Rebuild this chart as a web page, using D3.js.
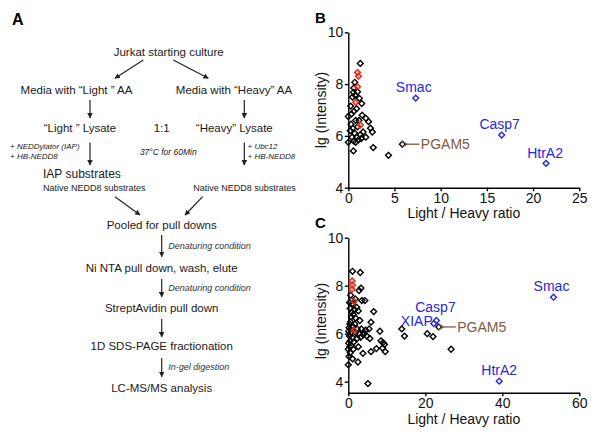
<!DOCTYPE html>
<html><head><meta charset="utf-8">
<script src="https://cdn.jsdelivr.net/npm/d3@7"></script>
<style>html,body{margin:0;padding:0;background:#fff}svg{display:block;font-family:"Liberation Sans",Arial,sans-serif}</style>
</head><body><svg id="c" width="600" height="436"></svg>
<script>
// ---------- DATA ----------
const flowSteps = ["Jurkat starting culture","Pooled for pull downs","Ni NTA pull down, wash, elute","StreptAvidin pull down","1D SDS-PAGE fractionation","LC-MS/MS analysis"];
const flowConditions = ["Denaturing condition","Denaturing condition","","In-gel digestion"];
const mediaLabels = ["Media with \u201cLight \u201d AA","Media with \u201cHeavy\u201d AA"];
const lysateLabels = ["\u201cLight \u201d Lysate","1:1","\u201cHeavy\u201d Lysate"];
const leftAdds = ["+ NEDDylator (IAP)","+ HB-NEDD8"];
const rightAdds = ["+ Ubc12","+ HB-NEDD8"];
const incubation = "37\u00b0C for 60Min";
const iapLabel = "IAP substrates";
const nativeLabel = "Native NEDD8 substrates";

const yTicks = [4,6,8,10];
const xTicksB = [0,5,10,15,20,25];
const xTicksC = [0,20,40,60];

// Panel B: [Light/Heavy ratio, lg intensity]
const bBlack = [[1.3,8.8],[0.7,8.07],[0.6,7.85],[0.55,7.68],[0.75,7.57],[0.45,7.5],[1.0,7.7],[1.45,7.25],[0.9,7.05],[0.6,6.95],[0.35,6.85],[0,6.75],[1.5,6.8],[0.8,6.6],[2.2,6.55],[1.9,6.68],[0.3,6.45],[2.4,6.3],[2.6,6.15],[0.5,6.3],[1.0,6.35],[0.2,6.2],[0.7,6.1],[1.3,6.05],[1.6,6.15],[0.9,5.95],[1.9,5.95],[0.4,5.95],[1.1,5.85],[0.6,5.8],[0,5.75],[1.4,5.9],[0.8,5.75],[0.55,5.42],[2.7,5.55],[4.35,5.25],[1.15,6.6],[0.25,7.15],[1.2,7.45]];
const bRed = [[1.0,8.45],[1.1,8.3],[1.0,7.9],[0.8,7.3],[1.3,6.42]];
const bPgam5 = [5.85,5.68];
const bBlueNames = ["Smac","Casp7","HtrA2"];
const bBlue = [[7.3,7.46],[16.6,6.03],[21.4,4.94]];

// Panel C
const cBlack = [[1.1,8.6],[3.1,8.55],[3.3,7.9],[2.8,7.8],[0.6,7.6],[1.8,7.45],[3.5,7.38],[4.3,7.38],[1.1,7.25],[2.2,7.1],[0.5,7.05],[2.6,6.95],[6.6,6.92],[1.3,6.8],[0.8,6.7],[1.9,6.65],[3.0,6.55],[5.9,6.48],[0.4,6.4],[1.2,6.3],[0.2,6.25],[2.3,6.2],[3.4,6.2],[4.5,6.15],[5.4,6.2],[8.2,6.1],[0.7,6.05],[1.9,6.05],[2.8,6.0],[3.9,5.95],[4.8,5.9],[3.2,5.85],[0.3,5.9],[1.0,5.85],[2.3,5.8],[5.6,5.8],[0.5,5.7],[1.4,5.65],[8.5,5.7],[9.0,5.62],[9.4,5.55],[0.1,5.6],[0.8,5.5],[2.6,5.45],[0,5.35],[1.3,5.35],[7.3,5.38],[8.9,5.4],[9.6,5.25],[5.9,5.25],[3.8,5.18],[0.5,5.2],[0.2,5.05],[1.1,4.95],[2.5,4.82],[0,4.7],[5.1,3.92],[13.9,6.2],[14.6,5.9],[20.5,6.0],[22.0,5.88],[26.7,5.35],[0.9,6.9],[1.6,7.0],[0.3,7.3],[0.1,6.1],[0.6,6.5],[1.7,6.4],[4.0,6.05],[0.4,5.45]];
const cRed = [[1.0,8.2],[1.1,8.02],[1.0,7.85],[1.5,7.35],[1.5,6.14]];
const cPgam5 = [23.5,6.28];
const cBlueNames = ["Smac","Casp7","XIAP","HtrA2"];
const cBlue = [[53.3,7.52],[22.9,6.55],[22.2,6.42],[39.2,4.02]];

// ---------- DRAW ----------
const svg = d3.select("#c");
const blue = "#2626e0", brown = "#7d5b3d", red = "#e0301e";

const defs = svg.append("defs");
defs.append("marker").attr("id","ah").attr("viewBox","0 0 10 10").attr("refX",9).attr("refY",5)
  .attr("markerWidth",5.5).attr("markerHeight",5.5).attr("markerUnits","userSpaceOnUse").attr("orient","auto")
  .append("path").attr("d","M0,0L10,5L0,10Z").attr("fill","#222");
defs.append("marker").attr("id","ahb").attr("viewBox","0 0 10 10").attr("refX",1).attr("refY",5)
  .attr("markerWidth",8).attr("markerHeight",7).attr("markerUnits","userSpaceOnUse").attr("orient","auto")
  .append("path").attr("d","M10,0L1,5L10,10").attr("fill","none").attr("stroke",brown).attr("stroke-width",1.5);

// ---- Panel A ----
const A = svg.append("g");
function txt(g,x,y,s,size,opts={}){
  return g.append("text").attr("x",x).attr("y",y).text(s).attr("font-size",size)
    .attr("text-anchor",opts.anchor||"middle").attr("font-style",opts.italic?"italic":null)
    .attr("font-weight",opts.bold?"bold":null).attr("fill",opts.fill||"#1a1a1a");
}
function arrow(g,x1,y1,x2,y2){
  g.append("line").attr("x1",x1).attr("y1",y1).attr("x2",x2).attr("y2",y2)
   .attr("stroke","#222").attr("stroke-width",1.2).attr("marker-end","url(#ah)");
}
txt(A,12,25,"A",16,{anchor:"start",bold:true,fill:"#000"});
txt(A,168.7,55.5,flowSteps[0],11.5);
arrow(A,143.3,60,115,78.3);
arrow(A,173.3,60,208.3,78.3);
txt(A,76.5,94.3,mediaLabels[0],11.5);
txt(A,234,94.3,mediaLabels[1],11.5);
arrow(A,90,100,90,118);
arrow(A,244.3,100,244.3,118);
txt(A,80,132.3,lysateLabels[0],11.5);
txt(A,161.7,132.3,lysateLabels[1],11.5);
txt(A,234.3,132.3,lysateLabels[2],11.5);
leftAdds.forEach((s,i)=>txt(A,10,149+i*10,s,8,{anchor:"start",italic:true}));
rightAdds.forEach((s,i)=>txt(A,247.5,149+i*10,s,8,{anchor:"start",italic:true}));
txt(A,168.3,155,incubation,8.5,{italic:true});
arrow(A,90,142.5,90,165);
arrow(A,244.3,142.5,244.3,165);
txt(A,43,177.7,iapLabel,12,{anchor:"start"});
txt(A,43,190.7,nativeLabel,9,{anchor:"start"});
txt(A,193.3,190.7,nativeLabel,9,{anchor:"start"});
arrow(A,115,196.7,140,215);
arrow(A,202.7,196.7,185,215);
const stepY = [228.7,271.7,312.3,350,391.7];
const arrowY = [[235,256.7],[279,297],[319,337],[358,376.7]];
flowSteps.slice(1).forEach((s,i)=>txt(A,161.7,stepY[i],s,11.5));
arrowY.forEach((a,i)=>{
  arrow(A,161.7,a[0],161.7,a[1]);
  if(flowConditions[i]) txt(A,168.3,a[0]+ (a[1]-a[0])/2+3,flowConditions[i],9,{anchor:"start",italic:true,fill:"#333"});
});

// ---- Scatter panels ----
const sq = d3.symbol().type(d3.symbolSquare).size(17);
function panel(cfg){
  const g = svg.append("g");
  const x = d3.scaleLinear().domain(cfg.xd).range([348.3,579.3]);
  const y = d3.scaleLinear().domain(cfg.yd).range(cfg.yr);
  const xa = g.append("g").attr("transform",`translate(0,${cfg.yr[0]})`)
    .call(d3.axisBottom(x).tickValues(cfg.xt).tickFormat(d3.format("d")).tickSize(3.5).tickPadding(1.5).tickSizeOuter(0));
  const ya = g.append("g").attr("transform","translate(348.3,0)")
    .call(d3.axisLeft(y).tickValues(yTicks).tickFormat(d3.format("d")).tickSize(3.5).tickPadding(1.5).tickSizeOuter(0));
  [xa,ya].forEach(a=>{
    a.selectAll("path,line").attr("stroke","#000").attr("stroke-width",1.4);
    a.selectAll("text").attr("font-size",14).attr("fill","#111").attr("font-family","Liberation Sans, Arial, sans-serif");
  });
  g.append("text").attr("x",463.8).attr("y",cfg.xtY).attr("text-anchor","middle").attr("font-size",14).attr("fill","#111").text("Light / Heavy ratio");
  g.append("text").attr("transform",`translate(326,${cfg.ytY}) rotate(-90)`).attr("text-anchor","middle").attr("font-size",14).attr("fill","#111").text("lg (Intensity)");
  g.append("text").attr("x",315).attr("y",cfg.lblY).attr("font-size",15).attr("font-weight","bold").attr("fill","#000").text(cfg.lbl);
  const pts = g.append("g");
  function draw(data,stroke,fill){
    pts.selectAll(null).data(data).enter().append("path").attr("d",sq)
      .attr("transform",d=>`translate(${x(d[0])},${y(d[1])}) rotate(45)`)
      .attr("fill",fill).attr("stroke",stroke).attr("stroke-width",1.4);
  }
  draw(cfg.black.concat([cfg.pg]),"#000","none");
  draw(cfg.red,red,"rgba(225,60,40,0.35)");
  draw(cfg.blue,blue,"none");
  cfg.blueNames.forEach((n,i)=>{
    const o = cfg.lblOff[i];
    g.append("text").attr("x",x(cfg.blue[i][0])+o[0]).attr("y",y(cfg.blue[i][1])+o[1])
      .attr("text-anchor",o[2]).attr("font-size",14).attr("fill",blue).text(n);
  });
  const px = x(cfg.pg[0]), py = y(cfg.pg[1]);
  g.append("line").attr("x1",px+17).attr("y1",py).attr("x2",px+5).attr("y2",py)
    .attr("stroke",brown).attr("stroke-width",1.3).attr("marker-end","url(#ahb)");
  g.append("text").attr("x",px+18.5).attr("y",py+5).attr("font-size",14).attr("fill",brown).text("PGAM5");
}
panel({xd:[0,25],xt:xTicksB,yd:[4,10],yr:[187.7,32.3],black:bBlack,red:bRed,pg:bPgam5,blue:bBlue,blueNames:bBlueNames,
  lblOff:[[-2,-6,"middle"],[-2,-6,"middle"],[-1,-5,"middle"]],xtY:218,ytY:110,lbl:"B",lblY:23});
panel({xd:[0,60],xt:xTicksC,yd:[3.54,10],yr:[392.7,237.7],black:cBlack,red:cRed,pg:cPgam5,blue:cBlue,blueNames:cBlueNames,
  lblOff:[[-2,-6,"middle"],[-1,-8,"middle"],[-1,2,"end"],[0,-6,"middle"]],xtY:424,ytY:321,lbl:"C",lblY:228});
</script></body></html>
